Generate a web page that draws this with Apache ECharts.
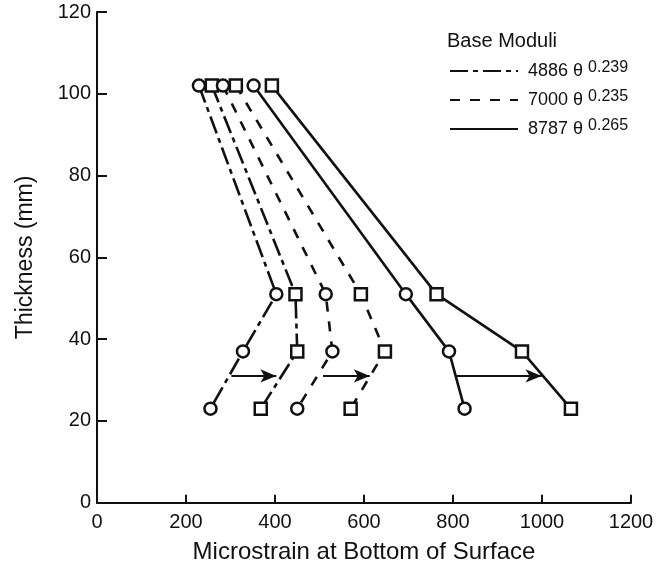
<!DOCTYPE html>
<html><head><meta charset="utf-8">
<script src="https://cdn.jsdelivr.net/npm/echarts@6/dist/echarts.min.js"></script>
<style>html,body{margin:0;padding:0;background:#fff}#c{width:665px;height:582px}</style>
</head><body><div id="c"></div>
<script>
// Thickness (mm) of each measured point, shared by all six curves
const thickness = [102, 51, 37, 23];
// Microstrain values (x) for each curve
const dashDotCircle = [229, 403, 328, 255];
const dashDotSquare = [258, 446, 450, 368];
const dashedCircle  = [283, 514, 529, 450];
const dashedSquare  = [312, 593, 647, 570];
const solidCircle   = [352, 694, 791, 826];
const solidSquare   = [393, 763, 955, 1065];
// Arrows (from circle curve to square curve) at a given thickness
const arrowThickness = 31;
const arrowFrom = [302, 508, 808];
const arrowTo   = [403, 613, 999];
// Legend
const moduli    = ['4886', '7000', '8787'];
const exponents = ['0.239', '0.235', '0.265'];
// Axis ticks
const xTicks = [0, 200, 400, 600, 800, 1000, 1200];
const yTicks = [0, 20, 40, 60, 80, 100, 120];

const FONT = '"Liberation Sans", Arial, Helvetica, sans-serif';
const INK = '#111';
const dashDot = [18, 5, 5, 5];
const dashed = [10, 10];

function pts(xs) { return xs.map((x, i) => [x, thickness[i]]); }
function curve(name, xs, symbol, type) {
  return {
    type: 'line', name: name, data: pts(xs), symbol: symbol, symbolSize: 12,
    showAllSymbol: true, z: 3,
    lineStyle: { color: INK, width: 2.6, type: type },
    itemStyle: { color: '#fff', borderColor: INK, borderWidth: 2.5 },
    emphasis: { disabled: true }, animation: false
  };
}
function legendSeries(name, type) {
  return { type: 'line', name: name, data: [], symbol: 'none',
    lineStyle: { color: INK, width: 2.6, type: type }, itemStyle: { color: INK } };
}

const chart = echarts.init(document.getElementById('c'));
chart.setOption({
  animation: false,
  backgroundColor: '#fff',
  title: { text: 'Base Moduli', left: 447, top: 31, padding: 0,
    textStyle: { fontFamily: FONT, fontSize: 20, fontWeight: 'normal', color: INK } },
  legend: {
    data: moduli, orient: 'vertical', left: 449, top: 60, padding: 0,
    itemWidth: 68, itemHeight: 14, itemGap: 9, selectedMode: false,
    itemStyle: { opacity: 0 },
    formatter: function (n) { return '{a|' + n + ' θ }{b|' + exponents[moduli.indexOf(n)] + '}'; },
    textStyle: { fontFamily: FONT, color: INK, fontSize: 18,
      rich: { a: { fontFamily: FONT, fontSize: 18, lineHeight: 22, color: INK, padding: [0, 0, 0, 5] },
              b: { fontFamily: FONT, fontSize: 16, lineHeight: 12, verticalAlign: 'top', color: INK } } }
  },
  grid: { left: 97, right: 34, top: 12, bottom: 79.3 },
  xAxis: {
    type: 'value', min: xTicks[0], max: xTicks[xTicks.length - 1], interval: 200,
    name: 'Microstrain at Bottom of Surface', nameLocation: 'middle', nameGap: 38,
    nameTextStyle: { fontFamily: FONT, fontSize: 24, color: INK },
    axisLine: { show: true, lineStyle: { color: INK, width: 2 } },
    axisTick: { show: true, inside: true, length: 8, lineStyle: { color: INK, width: 2 } },
    axisLabel: { fontFamily: FONT, fontSize: 20, color: INK, margin: 10, formatter: v => String(v) },
    splitLine: { show: false }
  },
  yAxis: {
    type: 'value', min: yTicks[0], max: yTicks[yTicks.length - 1], interval: 20,
    name: 'Thickness (mm)', nameLocation: 'middle', nameGap: 60,
    nameTextStyle: { fontFamily: FONT, fontSize: 23, color: INK },
    axisLine: { show: true, lineStyle: { color: INK, width: 2 } },
    axisTick: { show: true, inside: true, length: 10, lineStyle: { color: INK, width: 2 } },
    axisLabel: { fontFamily: FONT, fontSize: 20, color: INK, margin: 6, formatter: v => String(v) },
    splitLine: { show: false }
  },
  series: [
    legendSeries('4886', dashDot),
    legendSeries('7000', dashed),
    legendSeries('8787', 'solid'),
    curve('dd-c', dashDotCircle, 'circle', dashDot),
    curve('dd-s', dashDotSquare, 'rect', dashDot),
    curve('da-c', dashedCircle, 'circle', dashed),
    curve('da-s', dashedSquare, 'rect', dashed),
    curve('so-c', solidCircle, 'circle', 'solid'),
    curve('so-s', solidSquare, 'rect', 'solid'),
    {
      type: 'line', name: 'arrows', data: [], symbol: 'none', z: 2,
      markLine: {
        silent: true, animation: false, symbol: ['none', 'arrow'], symbolSize: [10, 16],
        label: { show: false }, emphasis: { disabled: true },
        lineStyle: { color: INK, width: 2, type: 'solid' },
        data: arrowFrom.map((x, i) => [{ coord: [x, arrowThickness] }, { coord: [arrowTo[i], arrowThickness] }])
      }
    }
  ]
});
</script></body></html>
